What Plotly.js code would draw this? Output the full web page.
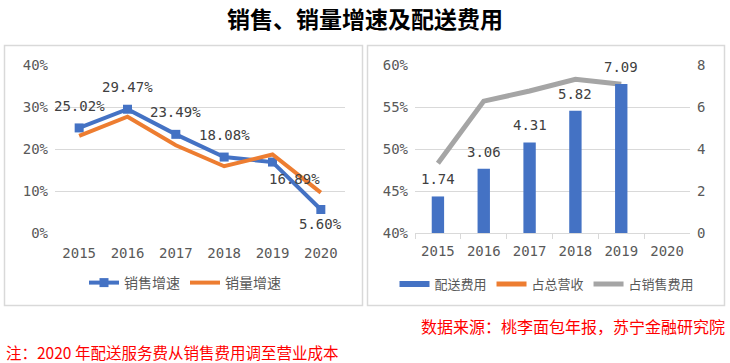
<!DOCTYPE html>
<html>
<head>
<meta charset="utf-8">
<script src="https://cdn.plot.ly/plotly-3.0.1.min.js"></script>
<style>html,body{margin:0;padding:0;background:#fff;}#chart{width:730px;height:363px;}</style>
</head>
<body>
<div id="chart"></div>
<script>
// ---- data ----
const years = ['2015', '2016', '2017', '2018', '2019', '2020'];
const salesGrowth = [25.02, 29.47, 23.49, 18.08, 16.89, 5.60];      // 销售增速 (%)
const volumeGrowth = [23.1, 27.7, 20.9, 15.9, 18.7, 9.6];           // 销量增速 (%)
const deliveryCost = [1.74, 3.06, 4.31, 5.82, 7.09, null];          // 配送费用 (亿元)
const shareOfRevenue = [null, null, null, null, null, null];        // 占总营收 (not visible in range)
const shareOfSalesExp = [48.3, 55.7, 56.9, 58.3, 57.7, null];       // 占销售费用 (%)
const titleText = '销售、销量增速及配送费用';
const sourceText = '数据来源：桃李面包年报，苏宁金融研究院';
const noteText = '注：2020 年配送服务费从销售费用调至营业成本';

// ---- styles ----
const W = 730, H = 363;
const BLUE = '#4472C4', ORANGE = '#ED7D31', GREY = '#A5A5A5';
const GRID = '#d9d9d9', TICK = '#595959', LBL = '#404040';
const monoFont = {family: 'DejaVu Sans Mono, Liberation Mono, monospace', size: 14, color: TICK};
const cjk = 'Noto Sans CJK SC, Noto Sans, sans-serif';
const px = v => v / W, py = v => 1 - v / H;

const traces = [
  {type: 'scatter', mode: 'lines+markers', x: years, y: salesGrowth, name: '销售增速',
   xaxis: 'x', yaxis: 'y', legend: 'legend',
   line: {color: BLUE, width: 4}, marker: {symbol: 'square', size: 9, color: BLUE}},
  {type: 'scatter', mode: 'lines', x: years, y: volumeGrowth, name: '销量增速',
   xaxis: 'x', yaxis: 'y', legend: 'legend',
   line: {color: ORANGE, width: 4}},
  {type: 'bar', x: years, y: deliveryCost, name: '配送费用', showlegend: false,
   xaxis: 'x2', yaxis: 'y3', marker: {color: BLUE}, width: 0.27},
  {type: 'scatter', mode: 'lines', x: years, y: shareOfSalesExp, name: '占销售费用', showlegend: false,
   xaxis: 'x2', yaxis: 'y2', line: {color: GREY, width: 5}},
  // legend entries for right panel (Excel-style line swatches)
  {type: 'scatter', mode: 'lines', x: years, y: [null, null, null, null, null, null], name: '配送费用',
   xaxis: 'x2', yaxis: 'y3', legend: 'legend2', line: {color: BLUE, width: 6}},
  {type: 'scatter', mode: 'lines', x: years, y: shareOfRevenue, name: '占总营收',
   xaxis: 'x2', yaxis: 'y2', legend: 'legend2', line: {color: ORANGE, width: 5}},
  {type: 'scatter', mode: 'lines', x: years, y: [null, null, null, null, null, null], name: '占销售费用',
   xaxis: 'x2', yaxis: 'y2', legend: 'legend2', line: {color: GREY, width: 5}}
];

// data labels (x given as category index)
const lineShift = [[0, 22], [0, 22], [0, 22], [0, 22], [22, -17], [0, -15]];
const annotations = [];
salesGrowth.forEach((v, i) => {
  annotations.push({xref: 'x', yref: 'y', x: i, y: v, text: v.toFixed(2) + '%',
    showarrow: false, xshift: lineShift[i][0], yshift: lineShift[i][1],
    font: {family: monoFont.family, size: 14, color: LBL}});
});
deliveryCost.forEach((v, i) => {
  if (v == null) return;
  annotations.push({xref: 'x2', yref: 'y3', x: i, y: v, text: v.toFixed(2),
    showarrow: false, yshift: 17, font: {family: monoFont.family, size: 14, color: LBL}});
});
annotations.push({xref: 'paper', yref: 'paper', x: px(727), y: py(326), xanchor: 'right', yanchor: 'middle',
  text: sourceText, showarrow: false, font: {family: cjk, size: 16, color: '#ff0000'}});
annotations.push({xref: 'paper', yref: 'paper', x: px(4), y: py(352), xanchor: 'left', yanchor: 'middle',
  text: noteText, showarrow: false, font: {family: cjk, size: 15.5, color: '#ff0000'}});
annotations.push({xref: 'paper', yref: 'paper', x: 0.5, y: py(18), xanchor: 'center', yanchor: 'middle',
  text: '<b>' + titleText + '</b>', showarrow: false, font: {family: cjk, size: 23, color: '#000'}});

const yDom = [py(233), py(65)];
const layout = {
  width: W, height: H, margin: {l: 0, r: 0, t: 0, b: 0},
  paper_bgcolor: '#fff', plot_bgcolor: 'rgba(0,0,0,0)',
  xaxis: {domain: [px(55), px(345)], anchor: 'y', type: 'category', range: [-0.5, 5.5],
    showgrid: false, showline: false, zeroline: false, ticks: '', tickfont: monoFont, ticklabelstandoff: 10},
  yaxis: {domain: yDom, anchor: 'x', range: [0, 40], dtick: 10, ticksuffix: '%',
    gridcolor: GRID, gridwidth: 1, zeroline: false, showline: false, tickfont: monoFont, ticklabelstandoff: 6},
  xaxis2: {domain: [px(415), px(690)], anchor: 'y2', type: 'category', range: [-0.5, 5.5],
    showgrid: false, showline: true, linecolor: GRID, zeroline: false,
    ticks: 'outside', tickson: 'boundaries', ticklen: 5, tickcolor: GRID, tickfont: monoFont, ticklabelstandoff: 5},
  yaxis2: {domain: yDom, anchor: 'x2', range: [40, 60], dtick: 5, ticksuffix: '%',
    gridcolor: GRID, gridwidth: 1, zeroline: false, showline: false, tickfont: monoFont, ticklabelstandoff: 6},
  yaxis3: {overlaying: 'y2', anchor: 'x2', side: 'right', range: [0, 8], dtick: 2,
    showgrid: false, zeroline: false, showline: false, tickfont: monoFont, ticklabelstandoff: 6},
  showlegend: true,
  legend: {orientation: 'h', x: px(185), xanchor: 'center', y: py(283), yanchor: 'middle',
    font: {family: cjk, size: 14, color: TICK}, bgcolor: 'rgba(0,0,0,0)', traceorder: 'normal'},
  legend2: {orientation: 'h', x: px(547), xanchor: 'center', y: py(284), yanchor: 'middle',
    font: {family: cjk, size: 13, color: TICK}, bgcolor: 'rgba(0,0,0,0)', traceorder: 'normal'},
  shapes: [
    {type: 'rect', xref: 'paper', yref: 'paper', x0: px(4.5), x1: px(362.5), y0: py(305.5), y1: py(45.5),
     line: {color: GRID, width: 1.5}, layer: 'below'},
    {type: 'rect', xref: 'paper', yref: 'paper', x0: px(367.5), x1: px(724.5), y0: py(305.5), y1: py(45.5),
     line: {color: GRID, width: 1.5}, layer: 'below'}
  ],
  annotations: annotations,
  bargap: 0.7
};

Plotly.newPlot('chart', traces, layout, {staticPlot: true, displayModeBar: false});
</script>
</body>
</html>
